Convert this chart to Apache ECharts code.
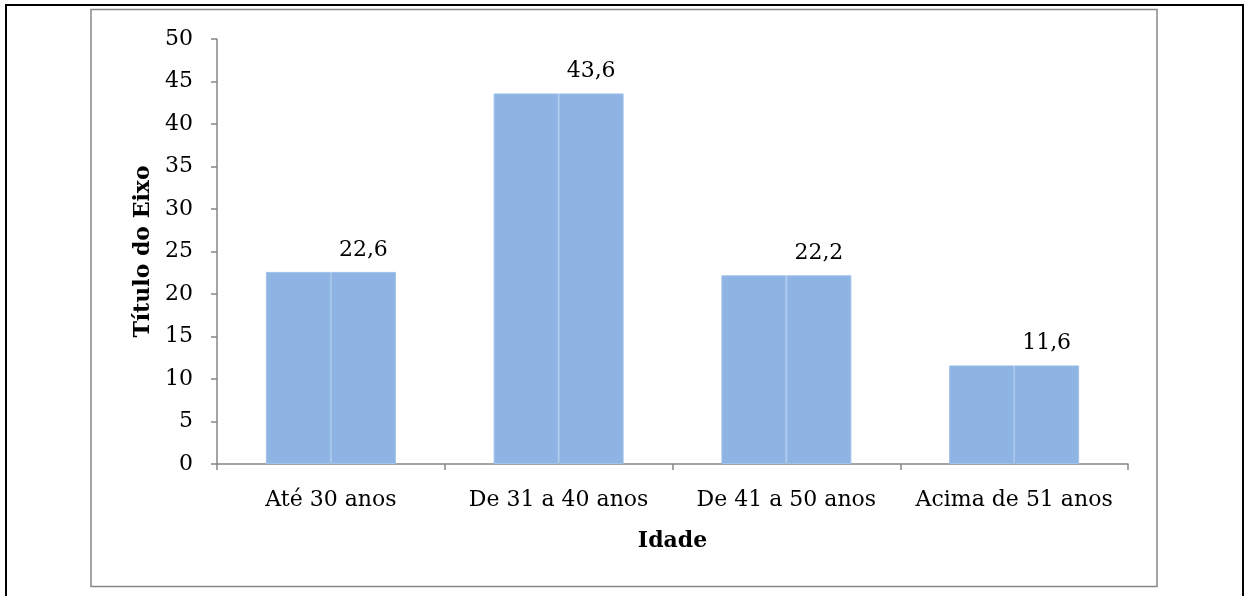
<!DOCTYPE html>
<html>
<head>
<meta charset="utf-8">
<script src="https://cdn.jsdelivr.net/npm/echarts@6/dist/echarts.min.js"></script>
<style>html,body{margin:0;padding:0;background:#fff;}#c{width:1248px;height:596px;}</style>
</head>
<body>
<div id="c"></div>
<script>
const categories = ['Até 30 anos', 'De 31 a 40 anos', 'De 41 a 50 anos', 'Acima de 51 anos'];
const values = [22.6, 43.6, 22.2, 11.6];
const yTicks = [0, 5, 10, 15, 20, 25, 30, 35, 40, 45, 50];
const xTitle = 'Idade';
const yTitle = 'Título do Eixo';

const FONT = '"DejaVu Serif", "Liberation Serif", serif';
const FS = 22;
const chart = echarts.init(document.getElementById('c'), null, {renderer: 'canvas'});
const barStyle = {color: '#8EB4E3', borderColor: '#A2C2EA', borderWidth: 1};
chart.setOption({
  animation: false,
  graphic: [
    {type: 'rect', shape: {x: 6, y: 5, width: 1237, height: 700}, style: {fill: 'none', stroke: '#000', lineWidth: 2}, silent: true},
    {type: 'rect', shape: {x: 91, y: 9.5, width: 1066, height: 577}, style: {fill: 'none', stroke: '#898989', lineWidth: 1.5}, silent: true}
  ],
  grid: {left: 217, right: 120, top: 39, bottom: 132},
  xAxis: {
    type: 'category', data: categories,
    name: xTitle, nameLocation: 'middle', nameGap: 66,
    nameTextStyle: {fontFamily: FONT, fontWeight: 'bold', fontSize: FS, color: '#000'},
    axisLine: {lineStyle: {color: '#868686', width: 1.5}},
    axisTick: {show: true, interval: 0, length: 6, lineStyle: {color: '#868686', width: 1.5}},
    axisLabel: {interval: 0, hideOverlap: false, fontFamily: FONT, fontSize: FS, color: '#000', margin: 25}
  },
  yAxis: {
    type: 'value', min: 0, max: 50, interval: 5,
    name: yTitle, nameLocation: 'middle', nameGap: 62, nameRotate: 90,
    nameTextStyle: {fontFamily: FONT, fontWeight: 'bold', fontSize: FS, color: '#000'},
    axisLine: {show: true, lineStyle: {color: '#868686', width: 1.5}},
    axisTick: {show: true, length: 6, lineStyle: {color: '#868686', width: 1.5}},
    splitLine: {show: false},
    axisLabel: {fontFamily: FONT, fontSize: FS, color: '#000', margin: 24,
      formatter: v => yTicks.includes(v) ? String(v) : ''}
  },
  series: [
    {type: 'bar', data: values, barWidth: 65, barGap: '0%', itemStyle: barStyle, label: {show: false}},
    {type: 'bar', data: values, barWidth: 65, barGap: '0%', itemStyle: barStyle,
      label: {show: true, position: 'top', distance: 11, fontFamily: FONT, fontSize: FS, color: '#000',
        formatter: p => String(p.value).replace('.', ',')}}
  ]
});
</script>
</body>
</html>
